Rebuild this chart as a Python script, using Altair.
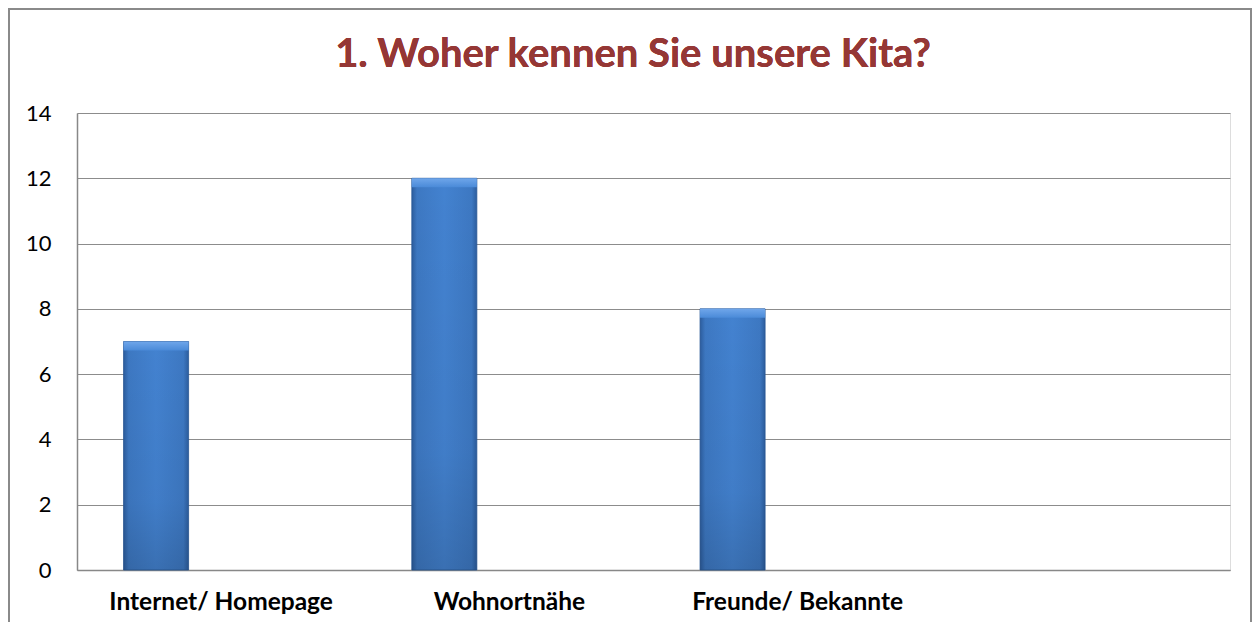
import altair as alt
import pandas as pd

categories = ["Internet/ Homepage", "Wohnortnähe", "Freunde/ Bekannte", ""]
series = ["Reihe1", "Reihe2", "Reihe3"]
values = [7, 12, 8]
title_text = "1. Woher kennen Sie unsere Kita?"
y_ticks = [0, 2, 4, 6, 8, 10, 12, 14]

df = pd.DataFrame({
    "cat": categories[:3],
    "ser": [series[0]] * 3,
    "v": values,
})

W, H = 1153, 457
PL, PT, PR, PB = 69, 105, 22, 52

x_enc = alt.X("cat:N", scale=alt.Scale(domain=categories, paddingInner=0.323, paddingOuter=0.1615),
              sort=categories,
              axis=alt.Axis(title=None, labelAngle=0, labelFont="Lato", labelFontWeight="bold",
                            labelFontSize=24.5, labelColor="#000000", labelPadding=20, ticks=False,
                            labelLimit=0, domainColor="#888888", domainWidth=1.5, grid=False))
xo_enc = alt.XOffset("ser:N", scale=alt.Scale(domain=series, paddingInner=0, paddingOuter=0))
y_enc = alt.Y("v:Q", scale=alt.Scale(domain=[0, 14], nice=False),
              axis=alt.Axis(title=None, values=y_ticks, labelFont="Lato", labelFontSize=22,
                            labelColor="#000000", labelPadding=26, ticks=False,
                            domainColor="#888888", domainWidth=1.5,
                            gridColor="#8c8c8c", gridWidth=1.2))

hgrad = {
    "gradient": "linear", "x1": 0, "y1": 0, "x2": 1, "y2": 0,
    "stops": [
        {"offset": 0.0, "color": "#2c5d9e"},
        {"offset": 0.08, "color": "#3d78c2"},
        {"offset": 0.5, "color": "#4382d0"},
        {"offset": 0.92, "color": "#3d78c2"},
        {"offset": 1.0, "color": "#2c5d9e"},
    ],
}

bars = alt.Chart(df).mark_bar(fill=hgrad, stroke="#2a5895", strokeWidth=0.8).encode(
    x=x_enc, xOffset=xo_enc, y=y_enc)

shade = alt.Chart(df).mark_bar(fill={
    "gradient": "linear", "x1": 0, "y1": 0, "x2": 0, "y2": 1,
    "stops": [
        {"offset": 0.0, "color": "rgba(0,0,0,0)"},
        {"offset": 0.7, "color": "rgba(0,0,0,0.04)"},
        {"offset": 1.0, "color": "rgba(0,0,0,0.14)"},
    ]}).encode(x=alt.X("cat:N", sort=categories), xOffset="ser:N", y="v:Q")

cap = alt.Chart(df).mark_bar(y2Offset=9, fill={
    "gradient": "linear", "x1": 0, "y1": 0, "x2": 0, "y2": 1,
    "stops": [
        {"offset": 0.0, "color": "#6fa6ea"},
        {"offset": 1.0, "color": "#4a8ad8"},
    ]}).encode(x=alt.X("cat:N", sort=categories), xOffset="ser:N", y="v:Q", y2="v:Q")

border = alt.Chart(df).mark_rect(fill=None, stroke="#8a8a8a", strokeWidth=2, clip=False).encode(
    x=alt.value(-PL + 1), x2=alt.value(W + PR - 1), y=alt.value(-PT + 1), y2=alt.value(H + PB + 20))

title = alt.Chart(df).mark_text(text=title_text, font="Lato", fontWeight="bold", fontSize=40,
                                color="#953735", align="center", baseline="alphabetic").encode(
    x=alt.value(556), y=alt.value(-46))

chart = alt.layer(border, bars, shade, cap, title).properties(
    width=W, height=H, padding={"left": PL, "top": PT, "right": PR, "bottom": PB},
    autosize=alt.AutoSizeParams(type="none"),
).configure_view(stroke=None).configure(background="#ffffff")

chart.save("out.html", embed_options={"renderer": "svg", "actions": False})
